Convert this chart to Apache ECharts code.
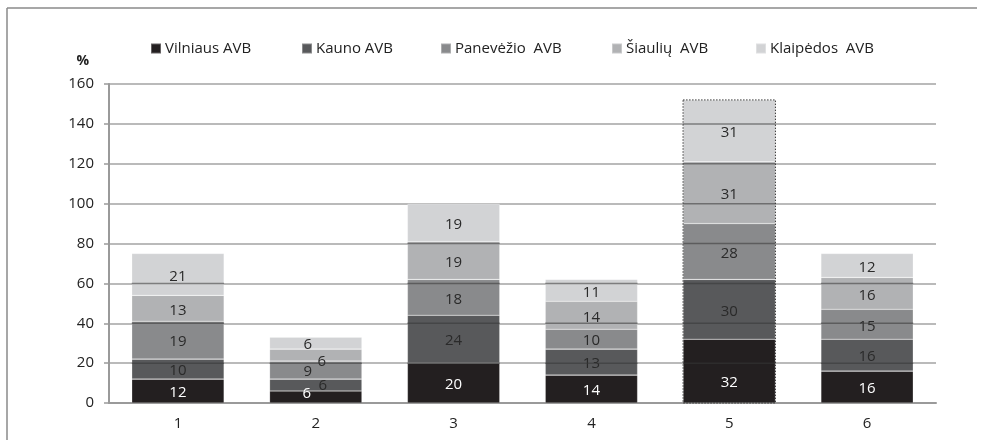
<!DOCTYPE html>
<html>
<head>
<meta charset="utf-8">
<script src="https://cdn.jsdelivr.net/npm/echarts@6/dist/echarts.min.js"></script>
<style>
  html, body { margin: 0; padding: 0; background: #fff; }
  #chart { width: 982px; height: 440px; }
</style>
</head>
<body>
<div id="chart"></div>
<script>
// Categories along the x axis
const categories = ['1', '2', '3', '4', '5', '6'];

// Stacked shares (%) per regional court
const seriesNames = ['Vilniaus AVB', 'Kauno AVB', 'Panevėžio  AVB', 'Šiaulių  AVB', 'Klaipėdos  AVB'];
const vilnius   = [12, 6, 20, 14, 32, 16];
const kaunas    = [10, 6, 24, 13, 30, 16];
const panevezys = [19, 9, 18, 10, 28, 15];
const siauliai  = [13, 6, 19, 14, 31, 16];
const klaipeda  = [21, 6, 19, 11, 31, 12];

// Value axis ticks
const yTicks = [0, 20, 40, 60, 80, 100, 120, 140, 160];

// Category whose whole stack is outlined
const outlinedCategory = '5';

const seriesValues = [vilnius, kaunas, panevezys, siauliai, klaipeda];
const colors = ['#231f20', '#58595b', '#898a8c', '#b1b2b4', '#d2d3d5'];
const labelColors = ['#ffffff', '#2a2a2a', '#2a2a2a', '#2a2a2a', '#2a2a2a'];
const FONT = '"Open Sans", "Noto Sans", sans-serif';

// Label nudges [dx, dy] keyed by "series,category" so crowded labels stay readable
const labelNudge = {
  '0,1': [-9, -3], '1,1': [7, 1], '2,1': [-8, 2], '3,1': [6, 7], '4,1': [-8, 2],
  '0,4': [0, 12]
};

const totals = categories.map((_, i) => seriesValues.reduce((s, arr) => s + arr[i], 0));

const barSeries = seriesNames.map((name, k) => ({
  name: name,
  type: 'bar',
  stack: 'total',
  barCategoryGap: '33%',
  data: seriesValues[k].map((v, i) => {
    const n = labelNudge[k + ',' + i];
    return n ? { value: v, label: { offset: n } } : v;
  }),
  itemStyle: { color: colors[k], borderColor: 'rgba(255,255,255,0.3)', borderWidth: 0.6 },
  label: {
    show: true,
    position: 'inside',
    color: labelColors[k],
    fontFamily: FONT,
    fontSize: 15,
    offset: [0, 2]
  },
  z: 2
}));

// Gridlines showing through the bars, plus the dotted outline of the selected stack
const overlaySeries = {
  type: 'custom',
  name: 'overlay',
  z: 6,
  silent: true,
  data: categories.map((c, i) => [i, totals[i], c === outlinedCategory ? 1 : 0]),
  renderItem: function (params, api) {
    const i = api.value(0);
    const total = api.value(1);
    const top = api.coord([i, total]);
    const base = api.coord([i, 0]);
    const w = api.size([1, 0])[0] * 0.67;
    const x0 = top[0] - w / 2;
    const children = [];
    yTicks.forEach(t => {
      if (t > 0 && t < total) {
        const y = api.coord([i, t])[1];
        children.push({
          type: 'line',
          shape: { x1: x0, y1: y, x2: x0 + w, y2: y },
          style: { stroke: 'rgba(55,55,55,0.55)', lineWidth: 1.5 }
        });
      }
    });
    if (api.value(2) === 1) {
      children.push({
        type: 'rect',
        shape: { x: x0, y: top[1], width: w, height: base[1] - top[1] },
        style: { fill: 'none', stroke: '#333', lineWidth: 1, lineDash: [1.5, 1.5] }
      });
    }
    return { type: 'group', children: children };
  }
};

const legendLefts = [145, 296, 435, 606, 750];
const legends = seriesNames.map((name, k) => ({
  data: [name],
  left: legendLefts[k],
  top: 36,
  itemWidth: 10,
  itemHeight: 10,
  itemGap: 4,
  icon: 'rect',
  textStyle: { fontFamily: FONT, fontSize: 15, color: '#222', padding: [0, 0, 0, -1] },
  selectedMode: false
}));

const chart = echarts.init(document.getElementById('chart'), null, { renderer: 'canvas' });
chart.setOption({
  animation: false,
  backgroundColor: '#ffffff',
  color: colors,
  legend: legends,
  grid: { left: 109, right: 46, top: 84, bottom: 37 },
  xAxis: {
    type: 'category',
    data: categories,
    axisLine: { lineStyle: { color: '#9a9a9a', width: 2 } },
    axisTick: { show: false },
    axisLabel: { fontFamily: FONT, fontSize: 15, color: '#222', margin: 13 }
  },
  yAxis: {
    type: 'value',
    min: yTicks[0],
    max: yTicks[yTicks.length - 1],
    interval: yTicks[1] - yTicks[0],
    name: '%',
    nameLocation: 'end',
    nameGap: 16,
    nameTextStyle: { fontFamily: FONT, fontSize: 14, fontWeight: 'bold', color: '#222', align: 'right', padding: [0, 20, 0, 0] },
    axisLine: { show: true, lineStyle: { color: '#9a9a9a', width: 2 } },
    axisTick: { show: true, length: 5, lineStyle: { color: '#9a9a9a', width: 1.5 } },
    axisLabel: { fontFamily: FONT, fontSize: 15, color: '#222', margin: 15 },
    splitLine: { show: true, lineStyle: { color: '#a3a3a3', width: 1.5 } }
  },
  graphic: [
    { type: 'line', shape: { x1: 7, y1: 8, x2: 977, y2: 8 }, style: { stroke: '#8a8a8a', lineWidth: 1.5 } },
    { type: 'line', shape: { x1: 7, y1: 8, x2: 7, y2: 440 }, style: { stroke: '#8a8a8a', lineWidth: 1.5 } }
  ],
  series: barSeries.concat([overlaySeries])
});
</script>
</body>
</html>
